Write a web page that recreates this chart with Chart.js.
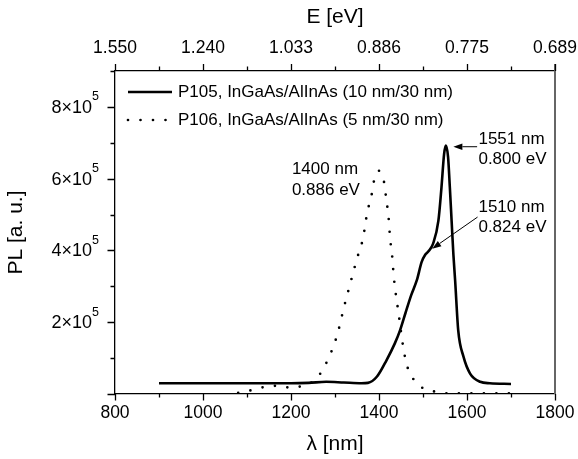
<!DOCTYPE html>
<html><head><meta charset="utf-8">
<script src="https://cdn.jsdelivr.net/npm/chart.js@4/dist/chart.umd.min.js"></script>
<style>html,body{margin:0;padding:0;background:#fff}#wrap{width:578px;height:459px}</style>
</head><body><div id="wrap"><canvas id="c" width="578" height="459"></canvas></div>
<script>
// ---- data ----
const wavelengthTicks = [800, 1000, 1200, 1400, 1600, 1800];
const wavelengthTickLabels = ['800', '1000', '1200', '1400', '1600', '1800'];
const energyTickLabels = ['1.550', '1.240', '1.033', '0.886', '0.775', '0.689'];
const intensityTicks = [200000, 400000, 600000, 800000];
const intensityTickMantissas = ['2', '4', '6', '8'];
const intensityTickExponent = '5';
const seriesNames = ['P105, InGaAs/AlInAs (10 nm/30 nm)', 'P106, InGaAs/AlInAs (5 nm/30 nm)'];
const axisTitles = { bottom: 'λ [nm]', top: 'E [eV]', left: 'PL [a. u.]' };

const p105Wavelength = [900, 1000, 1100, 1200, 1240, 1280, 1320, 1360, 1375, 1395, 1417, 1436, 1448, 1460, 1473, 1486, 1497, 1505, 1512, 1523, 1535, 1542, 1548, 1552, 1557, 1561, 1565, 1569, 1573, 1580, 1592, 1607, 1630, 1652, 1700];
const p105Intensity = [30000, 30000, 30000, 30000, 31000, 34000, 32000, 30000, 31000, 48000, 94000, 141000, 178000, 225000, 275000, 317000, 368000, 388000, 397000, 419000, 483000, 576000, 669000, 692000, 660000, 576000, 483000, 390000, 317000, 178000, 104000, 57000, 34000, 30000, 28000];

const p106Wavelength = [1080, 1084, 1112, 1141, 1169, 1198, 1224, 1251, 1271, 1286, 1298, 1308, 1320, 1333, 1345, 1355, 1364, 1369, 1374, 1382, 1387, 1393, 1400, 1406, 1412, 1416, 1420, 1423, 1425, 1429, 1434, 1445, 1455, 1461, 1470, 1488, 1500, 1531, 1557, 1600, 1650, 1700];
const p106Intensity = [3000, 5000, 11000, 20000, 23000, 18000, 22000, 36000, 65000, 102000, 138000, 178000, 240000, 300000, 355000, 398000, 435000, 474000, 511000, 546000, 585000, 610000, 622000, 610000, 587000, 548000, 511000, 474000, 435000, 397000, 322000, 220000, 131000, 92000, 57000, 30000, 16000, 6000, 2000, 2000, 2000, 2000];

const peakLabels = [['1400 nm', '0.886 eV'], ['1551 nm', '0.800 eV'], ['1510 nm', '0.824 eV']];

// ---- layout / style (not data) ----
const FONT = "'Liberation Sans', Arial, sans-serif";
const annotationLayout = [
  { text: peakLabels[0], at: [1202, 625000] },
  { text: peakLabels[1], at: [1626, 710000], arrowFrom: [1623, 689000], arrowTo: [1569, 689000] },
  { text: peakLabels[2], at: [1626, 521000], arrowFrom: [1624, 493000], arrowTo: [1521, 405000] }
];

const toXY = (xs, ys) => xs.map((x, i) => ({ x, y: ys[i] }));

const decorPlugin = {
  id: 'decor',
  afterDraw(chart) {
    const ctx = chart.ctx;
    const ca = chart.chartArea;
    const xs = chart.scales.x, x2 = chart.scales.x2, ys = chart.scales.y;
    ctx.save();
    // right frame line
    ctx.strokeStyle = '#666';
    ctx.lineWidth = 2;
    ctx.beginPath();
    ctx.moveTo(ca.right, ca.top - 7);
    ctx.lineTo(ca.right, ca.bottom);
    ctx.stroke();
    // ticks
    ctx.strokeStyle = '#000';
    ctx.lineWidth = 1.3;
    ctx.beginPath();
    xs.ticks.forEach(t => {
      const p = Math.round(xs.getPixelForValue(t.value)) + 0.5;
      const len = wavelengthTicks.includes(t.value) ? 6.5 : 3.5;
      ctx.moveTo(p, ca.bottom); ctx.lineTo(p, ca.bottom + len);
    });
    x2.ticks.forEach(t => {
      const p = Math.round(x2.getPixelForValue(t.value)) + 0.5;
      const len = wavelengthTicks.includes(t.value) ? 7 : 4.5;
      ctx.moveTo(p, ca.top); ctx.lineTo(p, ca.top - len);
    });
    ys.ticks.forEach(t => {
      const p = Math.round(ys.getPixelForValue(t.value)) + 0.5;
      const len = (t.value % 200000 === 0) ? 7.5 : 4.5;
      ctx.moveTo(ca.left, p); ctx.lineTo(ca.left - len, p);
    });
    ctx.stroke();

    // y tick labels with superscript
    ctx.fillStyle = '#000';
    ctx.textBaseline = 'middle';
    intensityTicks.forEach((v, i) => {
      const p = ys.getPixelForValue(v);
      ctx.font = '12.5px ' + FONT;
      const supW = ctx.measureText(intensityTickExponent).width;
      const right = ca.left - 16;
      ctx.textAlign = 'left';
      ctx.fillText(intensityTickExponent, right - supW, p - 10);
      ctx.font = '18px ' + FONT;
      ctx.textAlign = 'right';
      ctx.fillText(intensityTickMantissas[i] + '×10', right - supW, p + 1);
    });

    // legend
    ctx.font = '17px ' + FONT;
    ctx.textAlign = 'left';
    const lx0 = ca.left + 13, lx1 = ca.left + 57, tx = ca.left + 63;
    const rows = [ca.top + 21, ca.top + 49];
    chart.data.datasets.forEach((ds, i) => {
      ctx.save();
      ctx.strokeStyle = ds.borderColor;
      ctx.lineWidth = ds.borderWidth;
      ctx.lineCap = ds.borderCapStyle || 'butt';
      ctx.setLineDash(ds.borderDash || []);
      ctx.beginPath();
      ctx.moveTo(lx0, rows[i]); ctx.lineTo(lx1, rows[i]);
      ctx.stroke();
      ctx.restore();
      ctx.fillText(ds.label, tx, rows[i]);
    });

    // annotations
    ctx.font = '17px ' + FONT;
    annotationLayout.forEach(a => {
      const ax = xs.getPixelForValue(a.at[0]);
      const ay = ys.getPixelForValue(a.at[1]);
      a.text.forEach((line, k) => ctx.fillText(line, ax, ay + k * 20.5));
      if (a.arrowFrom) {
        const fx = xs.getPixelForValue(a.arrowFrom[0]), fy = ys.getPixelForValue(a.arrowFrom[1]);
        const hx = xs.getPixelForValue(a.arrowTo[0]), hy = ys.getPixelForValue(a.arrowTo[1]);
        const ang = Math.atan2(hy - fy, hx - fx);
        const hl = 9, hw = 3.2;
        const bx = hx - hl * Math.cos(ang), by = hy - hl * Math.sin(ang);
        ctx.strokeStyle = '#000';
        ctx.lineWidth = 1;
        ctx.beginPath(); ctx.moveTo(fx, fy); ctx.lineTo(bx, by); ctx.stroke();
        ctx.beginPath();
        ctx.moveTo(hx, hy);
        ctx.lineTo(bx - hw * Math.sin(ang), by + hw * Math.cos(ang));
        ctx.lineTo(bx + hw * Math.sin(ang), by - hw * Math.cos(ang));
        ctx.closePath(); ctx.fill();
      }
    });
    ctx.restore();
  }
};

const tickFont = { family: FONT, size: 17.5 };
const titleFont = { family: FONT, size: 21 };
const fixX = h => s => { s.height = h; s.paddingLeft = 0; s.paddingRight = 0; };

new Chart(document.getElementById('c'), {
  type: 'line',
  data: {
    datasets: [
      { label: seriesNames[0], data: toXY(p105Wavelength, p105Intensity), borderColor: '#000', borderWidth: 2.6,
        pointRadius: 0, cubicInterpolationMode: 'monotone', fill: false, borderCapStyle: 'butt' },
      { label: seriesNames[1], data: toXY(p106Wavelength, p106Intensity), borderColor: '#000', borderWidth: 2.7,
        borderDash: [0, 12.5], borderCapStyle: 'round', pointRadius: 0, cubicInterpolationMode: 'monotone', fill: false }
    ]
  },
  options: {
    responsive: false,
    animation: false,
    devicePixelRatio: 1,
    layout: { padding: { left: 0, right: 23, top: 0, bottom: 0 } },
    plugins: { legend: { display: false }, tooltip: { enabled: false } },
    scales: {
      x: {
        type: 'linear', position: 'bottom', min: 800, max: 1800,
        afterFit: fixX(65),
        ticks: { stepSize: 100, autoSkip: false, maxRotation: 0, font: tickFont, color: '#000', padding: 8.5,
          callback: v => { const i = wavelengthTicks.indexOf(v); return i >= 0 ? wavelengthTickLabels[i] : ''; } },
        grid: { display: false, drawTicks: false },
        border: { display: true, color: '#000', width: 1.3 },
        title: { display: true, text: axisTitles.bottom, font: titleFont, color: '#000', padding: { top: 0, bottom: 2 } }
      },
      x2: {
        type: 'linear', axis: 'x', position: 'top', min: 800, max: 1800,
        afterFit: fixX(71),
        ticks: { stepSize: 100, autoSkip: false, maxRotation: 0, font: tickFont, color: '#000', padding: 12.5,
          callback: v => { const i = wavelengthTicks.indexOf(v); return i >= 0 ? energyTickLabels[i] : ''; } },
        grid: { display: false, drawTicks: false },
        border: { display: true, color: '#000', width: 1.3 },
        title: { display: true, text: axisTitles.top, font: titleFont, color: '#000', padding: { top: 5, bottom: 0 } }
      },
      y: {
        type: 'linear', position: 'left', min: 0, max: 900000,
        afterFit: s => { s.width = 115; s.paddingTop = 0; s.paddingBottom = 0; },
        ticks: { stepSize: 100000, autoSkip: false, font: tickFont, color: '#000', callback: () => '' },
        grid: { display: false, drawTicks: false },
        border: { display: true, color: '#000', width: 1.3 },
        title: { display: true, text: axisTitles.left, font: titleFont, color: '#000', padding: { top: 4, bottom: 0 } }
      }
    }
  },
  plugins: [decorPlugin]
});
</script>
</body></html>
